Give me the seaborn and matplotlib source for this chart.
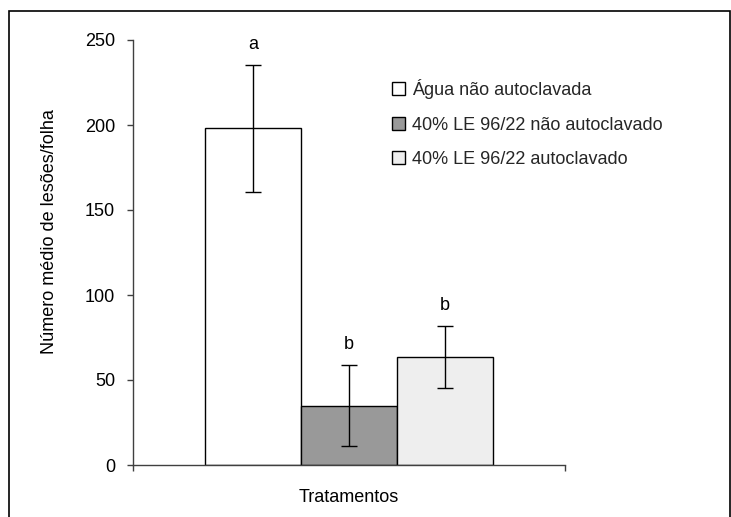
import matplotlib
matplotlib.use("Agg")
import matplotlib.pyplot as plt
import seaborn as sns
import pandas as pd
from matplotlib.patches import Rectangle

# Treatment means, standard deviations and significance letters
tratamentos = ["Água não autoclavada",
               "40% LE 96/22 não autoclavado",
               "40% LE 96/22 autoclavado"]
medias = [198, 35, 63.5]
desvios = [37.5, 24, 18]
letras = ["a", "b", "b"]
cores = ["#ffffff", "#999999", "#eeeeee"]

df = pd.DataFrame({"grupo": ["Tratamentos"] * 3,
                   "tratamento": tratamentos,
                   "valor": medias})

sns.set_theme(style="white")
plt.rcParams["font.family"] = ["Liberation Sans", "DejaVu Sans"]
FS = 13

W, H = 731, 517
fig = plt.figure(figsize=(W / 100, H / 100), dpi=100)
ax = fig.add_axes([133 / W, (H - 465) / H, 432 / W, 425 / H])

sns.barplot(data=df, x="grupo", y="valor", hue="tratamento",
            hue_order=tratamentos, palette=cores, edgecolor="black",
            linewidth=1.0, width=2 / 3, errorbar=None, ax=ax)

# Error bars and letters over each bar
for cont, m, s, l in zip(ax.containers, medias, desvios, letras):
    bar = cont[0]
    xc = bar.get_x() + bar.get_width() / 2
    ax.errorbar(xc, m, yerr=s, fmt="none", ecolor="black",
                elinewidth=1.0, capsize=6, capthick=1.0)
    ax.annotate(l, xy=(xc, m + s), xytext=(0, 12),
                textcoords="offset pixels", ha="center", va="bottom",
                fontsize=FS, color="black")

ax.set_ylim(0, 250)
ax.set_yticks([0, 50, 100, 150, 200, 250])
ax.set_xlim(-0.5, 0.5)
ax.set_xticks([-0.5, 0.5])
ax.set_xticklabels([])

for side in ["top", "right"]:
    ax.spines[side].set_visible(False)
for side in ["left", "bottom"]:
    ax.spines[side].set_color("#404040")
    ax.spines[side].set_linewidth(1.0)

ax.tick_params(axis="y", direction="out", length=4.3, width=1.0,
               color="#404040", pad=8.5, labelsize=FS, labelcolor="black",
               left=True)
ax.tick_params(axis="x", direction="out", length=4.3, width=1.0,
               color="#404040", bottom=True)

ax.set_ylabel("Número médio de lesões/folha", fontsize=FS, color="black")
ax.yaxis.set_label_coords((58 - 133) / 432, (465 - 232) / 425)
ax.set_xlabel("Tratamentos", fontsize=FS, color="black")
ax.xaxis.set_label_coords(0.5, (465 - 489) / 425)

handles, labels = ax.get_legend_handles_labels()
ax.legend(handles, labels, loc="upper left",
          bbox_to_anchor=(392 / W, 1 - 79 / H),
          bbox_transform=fig.transFigure, frameon=False, fontsize=FS,
          handlelength=0.72, handleheight=0.72, handletextpad=0.4,
          labelspacing=0.97, borderpad=0, borderaxespad=0)

# Outer frame around the chart area
fig.patches.append(Rectangle((9 / W, -0.05), (730 - 9) / W,
                             1.05 - 11 / H, transform=fig.transFigure,
                             fill=False, edgecolor="black", linewidth=1.2))

fig.savefig("out.png", dpi=100)
